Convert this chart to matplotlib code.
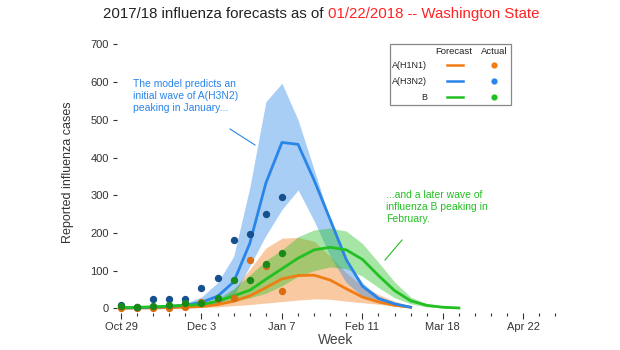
import matplotlib
matplotlib.use("Agg")
import matplotlib.pyplot as plt
from matplotlib.patches import Rectangle
from matplotlib.lines import Line2D

plt.rcParams['font.family'] = ['Liberation Sans', 'DejaVu Sans']

# week index 0 = Oct 29
tick_weeks = [0, 5, 10, 15, 20, 25]
tick_labels = ["Oct 29", "Dec 3", "Jan 7", "Feb 11", "Mar 18", "Apr 22"]
n_weeks = 28

# observed counts (weeks 0..10)
h1n1_actual = [2, 0, 2, 1, 3, 18, 24, 28, 127, 111, 45]
h3n2_actual = [8, 4, 25, 24, 25, 53, 81, 182, 196, 249, 294]
b_actual = [6, 3, 7, 10, 13, 15, 27, 75, 76, 118, 146]

# forecasts (median, lower, upper)
h1n1_fc = [0, 1, 1, 2, 3, 5, 10, 19, 33, 55, 78, 87, 88, 75, 52, 30, 17, 8, 3]
h1n1_lo = [0, 0, 0, 0, 1, 2, 4, 7, 10, 14, 18, 22, 25, 24, 19, 15, 11, 6, 2]
h1n1_hi = [1, 2, 3, 4, 6, 10, 20, 50, 103, 160, 186, 188, 178, 138, 94, 59, 37, 19, 6]

h3n2_fc = [1, 2, 3, 5, 8, 16, 32, 70, 172, 332, 440, 435, 340, 235, 129, 59, 26, 12, 3]
h3n2_lo = [0, 0, 1, 2, 4, 6, 14, 33, 112, 193, 262, 314, 232, 138, 68, 32, 15, 6, 2]
h3n2_hi = [2, 4, 6, 9, 14, 30, 68, 138, 320, 548, 597, 500, 368, 234, 129, 68, 32, 15, 4]

b_fc = [2, 3, 4, 6, 8, 10, 19, 33, 48, 77, 105, 133, 155, 162, 155, 130, 87, 47, 20, 8, 3, 1]
b_lo = [0, 1, 1, 2, 3, 5, 10, 18, 28, 40, 60, 85, 100, 110, 105, 85, 55, 28, 12, 4, 1, 0]
b_hi = [3, 5, 7, 9, 11, 14, 26, 52, 88, 127, 155, 190, 208, 213, 205, 172, 122, 70, 30, 12, 4, 2]

c_h1n1 = "#f07c14"
c_h3n2 = "#2a85e8"
c_b = "#22c022"
dot_h1n1 = "#dc6c10"
dot_h3n2 = "#17508e"
dot_b = "#178a17"

W, H = 620, 350
fig = plt.figure(figsize=(W / 100, H / 100), dpi=100)
ax = fig.add_axes([117 / W, (H - 312.5) / H, 443 / W, (312.5 - 38) / H])


def fx(x):
    return x / W


def fy(y):
    return 1 - y / H


series = [
    (h1n1_fc, h1n1_lo, h1n1_hi, c_h1n1),
    (h3n2_fc, h3n2_lo, h3n2_hi, c_h3n2),
    (b_fc, b_lo, b_hi, c_b),
]
for fc, lo, hi, col in series:
    wk = list(range(len(fc)))
    ax.fill_between(wk, lo, hi, color=col, alpha=0.4, lw=0)
    ax.plot(wk, fc, color=col, lw=2)

for vals, col in [(h1n1_actual, dot_h1n1), (h3n2_actual, dot_h3n2), (b_actual, dot_b)]:
    ax.scatter(range(len(vals)), vals, s=28, color=col, zorder=5, clip_on=False, lw=0)

ax.set_xlim(-0.25, 27.28)
ax.set_ylim(-11, 717)
for s in ax.spines.values():
    s.set_visible(False)
ax.set_yticks(range(0, 701, 100))
ax.set_xticks(tick_weeks)
ax.set_xticklabels(tick_labels)
ax.set_xticks(range(n_weeks), minor=True)
ax.tick_params(axis='y', length=3, width=0.8, pad=3, labelsize=8, colors='#333333')
ax.tick_params(axis='x', which='major', length=4.5, width=0.8, pad=2, labelsize=8, colors='#333333')
ax.tick_params(axis='x', which='minor', length=2, width=0.8, colors='#333333')

fig.text(fx(68), fy(172), "Reported influenza cases", rotation=90, ha='center', va='center',
         fontsize=9, color='#333333')
fig.text(fx(336), fy(340), "Week", ha='center', va='center', fontsize=10, color='#444444')

# two-colour title
r = fig.canvas.get_renderer()
t1 = fig.text(0, fy(14), "2017/18 influenza forecasts as of ", fontsize=10.8,
              color='#222222', va='center')
t2 = fig.text(0, fy(14), "01/22/2018 -- Washington State", fontsize=10.8,
              color='#ff2222', va='center')
w1 = t1.get_window_extent(r).width
w2 = t2.get_window_extent(r).width
x0 = 321 - (w1 + w2) / 2
t1.set_x(fx(x0))
t2.set_x(fx(x0 + w1))

# annotations
fig.text(fx(133), fy(96), "The model predicts an\ninitial wave of A(H3N2)\npeaking in January...",
         fontsize=7.5, color=c_h3n2, va='center', ha='left', linespacing=1.25)
fig.text(fx(386), fy(207), "...and a later wave of\ninfluenza B peaking in\nFebruary.",
         fontsize=7.5, color=c_b, va='center', ha='left', linespacing=1.25)
fig.add_artist(Line2D([fx(230), fx(255)], [fy(129), fy(145)], color=c_h3n2, lw=0.8))
fig.add_artist(Line2D([fx(402), fx(385)], [fy(240), fy(260)], color=c_b, lw=0.8))

# legend
fig.add_artist(Rectangle((fx(390), fy(105)), fx(121), (105 - 44) / H, fill=False,
                         edgecolor='#888888', lw=0.9))
fig.text(fx(454), fy(51), "Forecast", fontsize=6.8, ha='center', va='center', color='#222222')
fig.text(fx(494), fy(51), "Actual", fontsize=6.8, ha='center', va='center', color='#222222')
leg_rows = [("A(H1N1)", c_h1n1), ("A(H3N2)", c_h3n2), ("B", c_b)]
for i, (name, col) in enumerate(leg_rows):
    y = 65 + i * 16
    fig.text(fx(427), fy(y), name, fontsize=6.5, ha='right', va='center', color='#222222')
    fig.add_artist(Line2D([fx(447), fx(463)], [fy(y), fy(y)], color=col, lw=1.8))
    fig.add_artist(Line2D([fx(494)], [fy(y)], color=col, marker='o', markersize=4.5, lw=0,
                          markeredgewidth=0))

fig.savefig("out.png", dpi=100)
